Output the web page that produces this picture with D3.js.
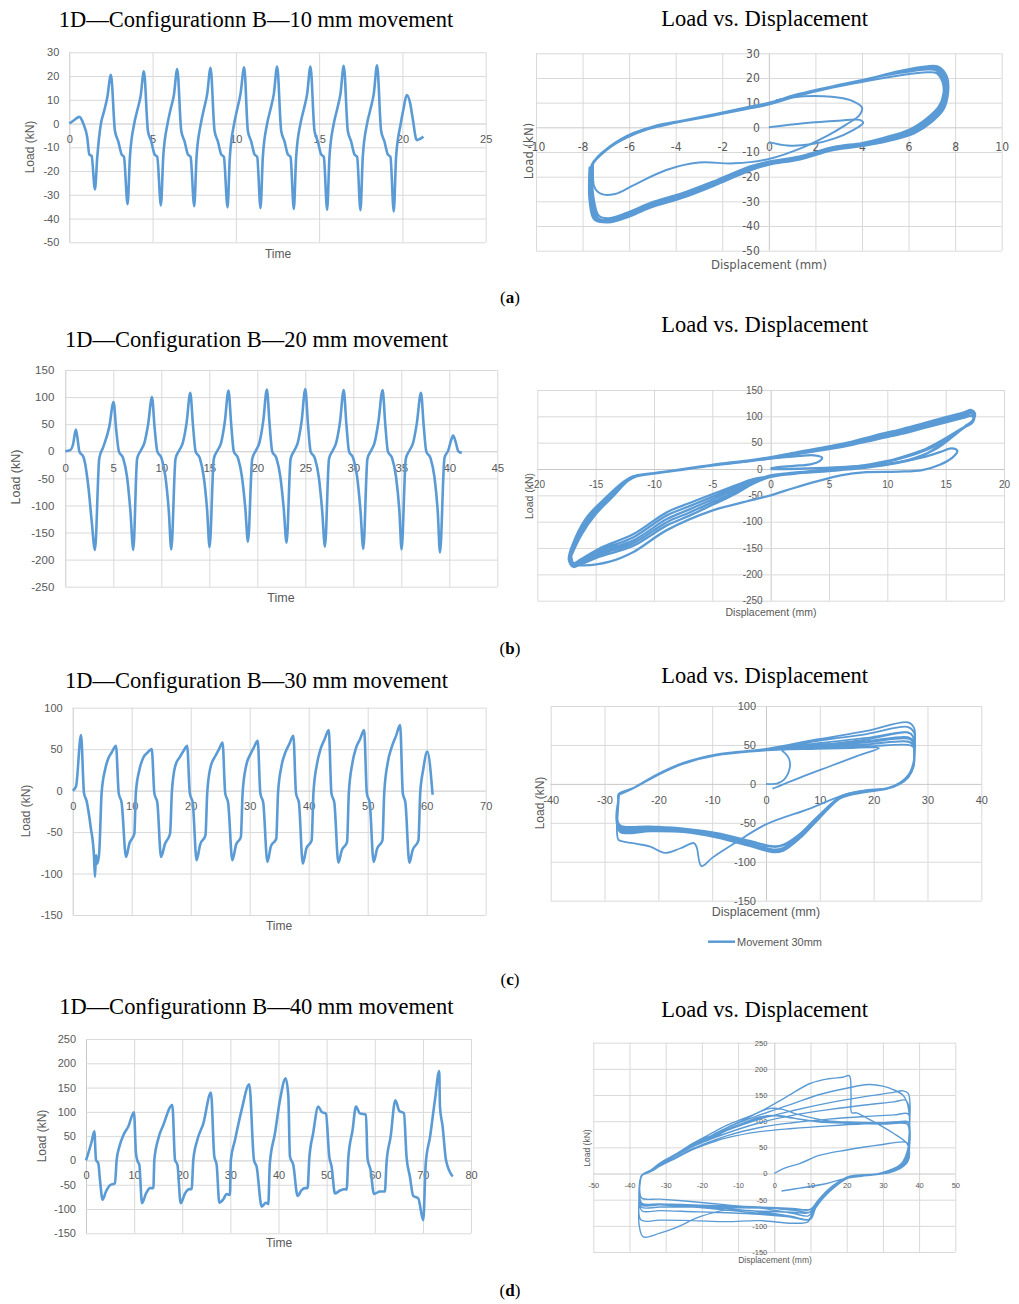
<!DOCTYPE html>
<html><head><meta charset="utf-8">
<style>
body { margin: 0; background: #fff; }
</style>
</head>
<body>
<svg width="1019" height="1304"></svg>
<script src="https://cdn.jsdelivr.net/npm/d3@7"></script>
<script>

// ---------- tick labels ----------
var timeTicksA = [0, 5, 10, 15, 20, 25];
var loadTicksA = [-50, -40, -30, -20, -10, 0, 10, 20, 30];
var dispTicksA = [-10, -8, -6, -4, -2, 0, 2, 4, 6, 8, 10];
var timeTicksB = [0, 5, 10, 15, 20, 25, 30, 35, 40, 45];
var loadTicksB = [-250, -200, -150, -100, -50, 0, 50, 100, 150];
var dispTicksB = [-20, -15, -10, -5, 0, 5, 10, 15, 20];
var timeTicksC = [0, 10, 20, 30, 40, 50, 60, 70];
var loadTicksC = [-150, -100, -50, 0, 50, 100];
var dispTicksC = [-40, -30, -20, -10, 0, 10, 20, 30, 40];
var timeTicksD = [0, 10, 20, 30, 40, 50, 60, 70, 80];
var loadTicksD = [-150, -100, -50, 0, 50, 100, 150, 200, 250];
var dispTicksD = [-50, -40, -30, -20, -10, 0, 10, 20, 30, 40, 50];

// ---------- load vs time [time, kN] ----------
var loadTimeA = [
 [0,0],[0.3,1.5],[0.6,2.8],[0.84,0],[1.08,-6],[1.2,-13],[1.34,-13.6],[1.54,-27.7],[1.68,-14],[1.9,0],[2.08,5],[2.28,11],[2.5,20.5],
 [2.74,-3],[2.94,-7.5],[3.14,-13],[3.28,-14],[3.5,-34],[3.64,-14],[3.9,0],[4.08,5.5],[4.28,11.5],[4.48,22],
 [4.72,-3],[4.92,-7.5],[5.12,-13],[5.28,-14],[5.5,-34.5],[5.64,-14],[5.9,0],[6.08,6],[6.28,12],[6.48,23],
 [6.72,-3],[6.92,-7.5],[7.12,-13],[7.28,-14],[7.5,-34.8],[7.64,-14],[7.9,0],[8.08,6],[8.28,12.5],[8.48,23.5],
 [8.72,-3],[8.92,-7.5],[9.12,-13],[9.28,-14],[9.5,-35.3],[9.64,-14],[9.9,0],[10.08,6],[10.28,12.5],[10.5,23.7],
 [10.72,-3],[10.92,-7.5],[11.12,-13],[11.28,-14],[11.48,-35.6],[11.62,-14],[11.88,0],[12.08,6],[12.28,12.5],[12.48,24],
 [12.72,-3],[12.92,-7.5],[13.12,-13],[13.28,-14],[13.48,-36],[13.62,-14],[13.88,0],[14.08,6],[14.28,12.5],[14.48,24],
 [14.72,-3],[14.92,-7.5],[15.12,-13],[15.28,-14],[15.48,-36.3],[15.62,-14],[15.88,0],[16.08,6],[16.28,12.5],[16.48,24.3],
 [16.72,-3],[16.92,-7.5],[17.12,-13],[17.28,-14],[17.48,-36.5],[17.62,-14],[17.88,0],[18.08,6],[18.28,12.5],[18.48,24.5],
 [18.72,-3],[18.92,-7.5],[19.12,-13],[19.28,-14],[19.48,-37],[19.62,-14],[19.9,0],[20.06,6],[20.26,12],[20.45,9],[20.62,2],[20.86,-7],[21.05,-6.5],[21.26,-5.5]
];
var loadTimeB = [
 [0,0],[0.5,2],[0.8,12],[1.1,40],[1.3,20],[1.46,0],[1.9,-11],[2.4,-65],[2.74,-127],[3.09,-182],[3.54,-13],[3.96,8],[4.58,45],[5.03,91],
 [5.3,40],[5.58,0],[6.03,-13],[6.43,-47],[6.78,-110],[7.08,-182],[7.48,-14],[7.88,2],[8.23,15],[8.63,50],[9.03,100],
 [9.3,44],[9.58,0],[10.03,-13],[10.43,-47],[10.78,-110],[11.04,-181],[11.48,-14],[11.88,2],[12.23,15],[12.63,52],[13.02,108],
 [13.3,48],[13.57,0],[14.02,-13],[14.42,-47],[14.77,-108],[15.03,-177],[15.47,-14],[15.87,2],[16.22,15],[16.62,55],[17.0,112],
 [17.28,50],[17.55,0],[18.0,-13],[18.4,-47],[18.75,-105],[19.03,-167],[19.47,-14],[19.87,2],[20.22,16],[20.62,56],[21.0,114],
 [21.28,50],[21.55,0],[22.0,-13],[22.4,-47],[22.75,-105],[23.05,-169],[23.47,-14],[23.87,2],[24.22,16],[24.62,56],[25.0,115],
 [25.28,50],[25.55,0],[26.0,-13],[26.4,-47],[26.75,-108],[27.05,-176],[27.47,-14],[27.87,2],[28.22,16],[28.62,55],[29.0,113],
 [29.28,50],[29.55,0],[30.0,-13],[30.4,-47],[30.75,-110],[31.04,-180],[31.47,-14],[31.87,2],[32.22,16],[32.62,55],[33.05,113],
 [33.33,50],[33.6,0],[34.05,-13],[34.45,-47],[34.8,-110],[35.03,-181],[35.47,-14],[35.87,2],[36.22,15],[36.62,52],[37.05,108],
 [37.33,48],[37.6,0],[38.05,-13],[38.45,-47],[38.8,-112],[39.03,-187],[39.5,-12],[39.9,2],[40.15,18],[40.4,29],[40.65,18],[40.94,0],[41.3,-3]
];
var loadTimeC = [
 [0,0],[0.56,5],[1.41,67],[1.92,-3],[2.37,-13],[3.05,-44],[3.6,-78],[3.78,-104],[3.95,-78],[4.18,-88],[4.5,-74],[4.9,-3],[5.48,25],[6.05,39],[6.6,46],[7.34,54],
 [7.8,-3],[8.3,-15],[9.04,-80],[9.6,-64],[10.45,-52],[10.7,-3],[11.3,25],[11.98,40],[12.7,46],[13.4,50],
 [13.84,-3],[14.35,-15],[14.97,-80],[15.65,-64],[16.5,-52],[16.8,-3],[17.35,29],[18.2,41],[18.8,48],[19.4,54],
 [19.85,-3],[20.35,-15],[21.0,-84],[21.6,-65],[22.5,-54],[22.8,-3],[23.35,28],[24.2,42],[24.8,50],[25.4,58],
 [25.85,-3],[26.35,-15],[27.06,-84],[27.7,-65],[28.5,-56],[28.8,-3],[29.4,30],[30.2,45],[30.7,52],[31.36,60],
 [31.8,-3],[32.3,-15],[33.0,-86],[33.6,-67],[34.5,-58],[34.8,-3],[35.4,30],[36.1,47],[36.7,56],[37.4,66],
 [37.85,-3],[38.35,-15],[39.0,-88],[39.6,-70],[40.5,-60],[40.8,-3],[41.4,32],[42.0,50],[42.7,62],[43.4,73],
 [43.85,-3],[44.35,-15],[45.03,-87],[45.6,-72],[46.5,-62],[46.8,-3],[47.4,33],[48.0,51],[48.7,62],[49.4,73],
 [49.85,-3],[50.35,-15],[51.0,-86],[51.6,-70],[52.5,-60],[52.8,-3],[53.4,34],[54.1,53],[54.8,66],[55.5,79],
 [55.95,-3],[56.4,-15],[57.06,-87],[57.6,-72],[58.6,-60],[58.9,-3],[59.4,25],[60.1,47],[61.0,-5]
];
var loadTimeD = [
 [0,0],[0.48,15],[1.18,39],[1.73,60],[2.08,1],[2.56,-6],[2.9,-40],[3.46,-81],[4.15,-64],[4.99,-51],[6.02,-47],[6.37,1],[6.92,28],[7.76,52],[8.8,70],[9.97,99],
 [10.38,15],[10.73,-2],[11.08,-9],[11.63,-88],[12.47,-68],[13.3,-57],[14.0,-57],[14.2,1],[15.03,45],[16.07,73],[17.94,114],
 [18.5,1],[19.0,-9],[19.67,-88],[20.57,-68],[21.47,-59],[21.95,-59],[22.3,1],[23.13,42],[24.38,76],[25.97,140],
 [26.66,8],[27.15,-9],[27.7,-87],[28.53,-80],[29.22,-69],[29.9,-71],[30.1,1],[30.96,42],[32.34,104],[33.93,157],
 [34.9,1],[35.46,-13],[36.5,-95],[37.4,-87],[37.88,-90],[38.2,-6],[39.27,56],[40.3,124],[41.48,169],
 [42.04,133],[42.38,8],[43.07,-9],[43.97,-73],[44.8,-61],[45.5,-57],[46.05,-57],[46.4,4],[47.2,56],[48.27,111],
 [48.96,100],[49.86,96],[50.55,8],[51.04,-13],[51.73,-68],[52.77,-62],[53.8,-59],[54.16,-60],[54.5,4],[55.4,63],[56.1,111],
 [56.9,97],[58.17,94],[58.5,4],[59.14,-20],[59.83,-69],[61.08,-64],[62.1,-64],[62.46,-3],[63.3,49],[64.27,124],
 [65.1,102],[66.07,97],[66.6,8],[67.3,-33],[68.0,-73],[69.04,-78],[70.08,-123],[70.6,-6],[71.5,49],[72.5,124],[73.4,184],
 [73.55,111],[74.1,70],[74.8,1],[76.2,-33]
];

// ---------- load vs displacement [mm, kN], one trace per run ----------
var loopA = [
 [[0,-6],[0.8,-7.4],[1.8,-6.9],[2.8,-4.6],[3.6,-1.2],[4.05,1.8],[3.9,3],[3,2.7],[1.5,1.7],[0,0]],
 [[0.3,11],[1.5,12.6],[2.7,12.4],[3.5,11],[4,8],[3.9,5],[3.3,1],[2.5,-3.5],[1.5,-8],[0,-12.8],[-1.5,-14.6],[-3,-14.3],[-4.4,-17.3],[-5.8,-23.4],[-6.6,-27],[-7.2,-27],[-7.5,-24],[-7.55,-17],[-7.55,-14]],
 [[-7.55,-14],[-6.8,-7.5],[-5.8,-2.2],[-4.8,0.8],[-3.7,2.8],[-2.2,5.5],[-0.8,8.2],[0,9.8],[1.3,13.2],[2.8,16.2],[4.2,18.8],[5.6,21],[6.8,22.3],[7.2,22],[7.45,18.5],[7.5,14],[7.3,8.5],[6.8,3.8],[6.05,-0.8],[4.9,-4.3],[4,-6.3],[2.8,-7.9],[1.3,-11.8],[0,-13.8],[-0.8,-15.8],[-2.2,-21.2],[-3.7,-26.6],[-5.1,-30.6],[-6.1,-34.6],[-6.9,-36.8],[-7.3,-35.8],[-7.5,-30],[-7.6,-20],[-7.6,-15],
  [-6.9,-8.5],[-5.9,-2.8],[-4.9,0.6],[-3.8,2.6],[-2.3,5.4],[-0.9,8.2],[0,10],[1.3,13.6],[2.8,16.8],[4.2,19.6],[5.6,22],[6.8,23.4],[7.2,23],[7.5,19],[7.55,14],[7.35,8.3],[6.85,3.4],[6.1,-1.2],[5,-4.6],[4,-6.8],[2.8,-8.4],[1.3,-12.3],[0,-14.3],[-0.8,-16.3],[-2.2,-21.8],[-3.7,-27.3],[-5.1,-31.3],[-6.1,-35.3],[-6.9,-37.6],[-7.35,-36.6],[-7.55,-30],[-7.62,-20],[-7.6,-15.5],
  [-7,-9.5],[-6,-3.6],[-5,0],[-3.8,2.4],[-2.3,5.1],[-0.9,7.9],[0,9.6],[1.3,13.4],[2.8,16.6],[4.2,19.6],[5.6,22.4],[6.8,24],[7.25,23.6],[7.55,19.5],[7.6,14],[7.4,8],[6.9,3],[6.15,-1.6],[5,-5],[4,-7],[2.8,-8.7],[1.3,-12.6],[0,-14.7],[-0.8,-16.8],[-2.2,-22.4],[-3.7,-27.9],[-5.1,-31.9],[-6.1,-35.9],[-6.9,-38.1],[-7.4,-37],[-7.6,-30],[-7.65,-20],[-7.6,-15.8],
  [-7.1,-10],[-6.1,-4.2],[-5.1,-0.4],[-3.9,2.1],[-2.4,4.8],[-1,7.6],[0,9.4],[1.3,13.1],[2.8,16.4],[4.2,19.4],[5.6,22.6],[6.8,24.5],[7.3,24.1],[7.6,20],[7.65,14],[7.45,7.6],[6.95,2.6],[6.2,-2],[5.05,-5.4],[4.05,-7.3],[2.8,-9],[1.3,-12.9],[0,-15],[-0.8,-17.2],[-2.2,-22.8],[-3.7,-28.3],[-5.1,-32.3],[-6.1,-36.3],[-6.9,-38.4],[-7.45,-37.2],[-7.65,-30],[-7.7,-20],[-7.65,-16],
  [-7.2,-10.5],[-6.2,-4.6],[-5.2,-0.8],[-4,1.8],[-2.5,4.5],[-1,7.3],[0,9.2],[1.3,12.9],[2.8,16.2],[4.2,19.4],[5.6,22.8],[6.8,24.8],[7.3,24.5],[7.65,20.5],[7.7,14],[7.5,7.2],[7,2.2],[6.25,-2.4],[5.1,-5.7],[4.1,-7.5],[2.8,-9.2],[1.3,-13.1],[0,-15.2],[-0.8,-17.5],[-2.2,-23.1],[-3.7,-28.6],[-5.1,-32.6],[-6.1,-36.6],[-6.9,-38.6],[-7.5,-37.4],[-7.7,-30],[-7.72,-20],[-7.7,-16]]
];
var loopB = [
 [[0,0],[2.5,0.5],[5.5,3],[8.5,7],[11,13],[13,22],[14.5,32],[15.5,39],[16,34],[15.6,22],[14.5,8],[13,-2],[11,-5],[8.2,-6],[6,-12],[4.2,-22],[2,-36],[0,-50],[-2.5,-64],[-4.9,-78],[-8.9,-116],[-11.8,-158],[-13.8,-176],[-16,-183],[-16.9,-180],[-17.1,-165]],
 [[-1,18],[1,22],[2.5,25],[3.7,26],[4.4,22],[4.2,15],[3.4,9],[2,6],[0.5,3],[0,1]],
 [[-17.1,-165],[-16.2,-124],[-15.0,-86],[-13.6,-54],[-12.2,-22],[-11.4,-13],[-10,-8],[-7,1],[-4.9,7],[-2,14],[0,20],[2.5,29],[5,38],[7,46],[9,56],[11.1,66],[13,77],[15.1,89],[16.5,97],[17.2,101],[17.4,97],[17.3,88],[16.5,78],[15,58],[13.9,42],[11.9,25],[9.6,12],[6.8,3],[4,-3],[2,-8],[0,-14],[-1.5,-19],[-3,-31],[-4.9,-47],[-7,-65],[-8.9,-82],[-11.8,-124],[-14.6,-150],[-16.3,-172],[-16.9,-179],[-17.2,-170],
  [-16.4,-125],[-15.2,-87],[-13.8,-55],[-12.3,-23],[-11.5,-14],[-10,-8.5],[-7,0.5],[-4.9,7],[-2,14.5],[0,21],[2.5,30],[5,40],[7,48],[9,58],[11.1,69],[13,80],[15.1,93],[16.5,101],[17.2,106],[17.4,101],[17.3,90],[16.3,76],[14.5,52],[13,35],[11,20],[8.5,9],[5.5,1],[3,-5],[1,-10],[0,-13],[-1.5,-22],[-3,-35],[-4.9,-52],[-7,-71],[-8.9,-88],[-11.8,-130],[-14.6,-154],[-16.3,-175],[-16.9,-182],[-17.2,-168],
  [-16.5,-126],[-15.4,-88],[-14.0,-56],[-12.4,-22],[-11.6,-13],[-10,-8],[-7,1],[-4.9,7.5],[-2,15],[0,21.5],[2.5,31],[5,41],[7,50],[9,61],[11.1,72],[13,83],[15.1,96],[16.5,104],[17.2,109],[17.4,104],[17.4,92],[16.8,82],[15.5,62],[14,44],[12,28],[10,15],[7,4],[4,-3],[2,-7],[0,-12],[-1.5,-24],[-3,-39],[-4.9,-57],[-7,-77],[-8.9,-95],[-11.8,-136],[-14.6,-158],[-16.3,-178],[-16.9,-185],[-17.3,-170],
  [-16.6,-128],[-15.6,-89],[-14.2,-57],[-12.5,-23],[-11.7,-14],[-10,-8],[-7,1.5],[-4.9,8],[-2,15.5],[0,22],[2.5,32],[5,42],[7,51],[9,63],[11.1,74],[13,86],[15.1,99],[16.5,107],[17.2,112],[17.5,106],[17.4,94],[16.9,84],[16,70],[14.5,45],[13,25],[11,12],[8,3],[5,-3],[2,-8],[0,-13],[-1.5,-26],[-3,-43],[-4.9,-62],[-7,-83],[-8.9,-101],[-11.8,-141],[-14.6,-162],[-16.3,-180],[-16.9,-186],[-17.3,-172],
  [-16.7,-129],[-15.7,-90],[-14.3,-58],[-12.6,-24],[-11.8,-14],[-10,-8],[-7,1.5],[-4.9,8.5],[-2,16],[0,22.5],[2.5,33],[5,43],[7,52],[9,64],[11.1,75],[13,86],[15.1,98],[16.5,105],[17.2,109],[17.4,104],[17.3,92],[16.6,80],[15.8,65],[14.3,40],[12.5,22],[10.5,10],[8,2],[5,-4],[2,-9],[0,-15],[-1.5,-28],[-3,-47],[-4.9,-67],[-7,-89],[-8.9,-107],[-11.8,-146],[-14.6,-166],[-16.3,-181],[-16.8,-184],[-17.1,-170]]
];
var loopC = [
 [[0,0],[2,0.3],[3.3,5],[4.4,20],[4.3,32],[3.6,39],[3,43],[5,45.5],[9.4,49],[18.7,57],[26.2,66],[27.2,62],[27.5,45],[27.4,22],[26.4,9],[24.9,0.7],[22.4,-5.8],[18.7,-8],[14.4,-14.3],[8,-32],[0,-52],[-6,-77],[-10,-95],[-12,-105.5],[-12.9,-81],[-13.4,-76],[-16,-83],[-18.8,-88.6],[-21.5,-80.6],[-24,-77],[-26.5,-74],[-27.4,-72],[-27.7,-60],[-27.6,-45],[-27.4,-25],[-27.3,-14]],
 [[-27.3,-14],[-24.6,-5.4],[-20.3,11],[-15.4,26],[-9.2,37],[0,43.5],[9.4,47],[18.7,50.5],[26.4,54],[27.3,50],[27.5,40],[27.3,22],[26.3,9],[24.8,0.5],[22.3,-6],[18.7,-8.5],[15.6,-12],[13.7,-16.5],[9.4,-43],[6.3,-64],[3.2,-78],[1.4,-80],[-3,-73],[-9.2,-63],[-15.4,-57],[-21.5,-54.5],[-27.1,-53],[-27.7,-42],[-27.5,-22],[-27.3,-13],
  [-24.6,-5],[-20.3,11.5],[-15.4,26.5],[-9.2,37.5],[0,44],[9.4,46],[18.7,48],[26.4,50],[27.4,47],[27.6,38],[27.4,22],[26.4,8],[24.9,0],[22.4,-6.5],[18.7,-9],[15.6,-12.5],[13.7,-17],[9.4,-44],[6.3,-65],[3.2,-79],[1.4,-81],[-3,-74],[-9.2,-64],[-15.4,-58],[-21.5,-56],[-27.1,-55],[-27.8,-43],[-27.5,-22],[-27.4,-13],
  [-24.6,-5.2],[-20.3,11],[-15.4,26],[-9.2,37],[0,43.5],[9.4,47.5],[18.7,51],[26.4,54.5],[27.4,50],[27.6,40],[27.4,23],[26.5,9],[25,0.5],[22.5,-6],[18.7,-9],[15.6,-13],[13.7,-17.5],[9.4,-45],[6.3,-67],[3.2,-82],[1.4,-84],[-3,-76],[-9.2,-65],[-15.4,-59],[-21.5,-57],[-27.1,-56],[-27.8,-44],[-27.5,-22],[-27.4,-14],
  [-24.6,-5.6],[-20.3,10.5],[-15.4,25.5],[-9.2,36.5],[0,43],[9.4,49],[18.7,53.5],[26.4,58],[27.4,53],[27.6,42],[27.4,24],[26.5,10],[25,1],[22.5,-6],[18.7,-9.5],[15.6,-13],[13.7,-18],[9.4,-46],[6.3,-68],[3.2,-82],[1.4,-84],[-3,-77],[-9.2,-66],[-15.4,-60],[-21.5,-58],[-27.1,-57],[-27.8,-45],[-27.5,-22],[-27.4,-14],
  [-24.6,-5.4],[-20.3,11],[-15.4,26],[-9.2,37],[0,43.5],[9.4,50],[18.7,55],[26.4,60],[27.4,55],[27.6,44],[27.4,25],[26.5,10],[25,1],[22.5,-6.5],[18.7,-10],[15.6,-13.5],[13.7,-18],[9.4,-47],[6.3,-69],[3.2,-84],[1.4,-86],[-3,-78],[-9.2,-67],[-15.4,-61],[-21.5,-59],[-27.1,-58],[-27.8,-46],[-27.5,-22],[-27.4,-14],
  [-24.6,-5.2],[-20.3,11.5],[-15.4,26.5],[-9.2,37.5],[0,44],[9.4,52],[18.7,59],[26.4,66],[27.4,60],[27.6,47],[27.4,25],[26.5,10],[25,1],[22.5,-6.5],[18.7,-10],[15.6,-14],[13.7,-18.5],[9.4,-48],[6.3,-70],[3.2,-86],[1.4,-88],[-3,-80],[-9.2,-68],[-15.4,-62],[-21.5,-60],[-27.1,-59],[-27.8,-46],[-27.5,-22],[-27.4,-14],
  [-24.6,-5],[-20.3,12],[-15.4,27],[-9.2,38],[0,44.5],[9.4,55],[18.7,64],[26.4,73],[27.5,66],[27.7,50],[27.4,26],[26.5,11],[25,1.5],[22.5,-6],[18.7,-10],[15.6,-14],[13.7,-18.5],[9.4,-48],[6.3,-70],[3.2,-85],[1.4,-87],[-3,-79],[-9.2,-68],[-15.4,-61.5],[-21.5,-60],[-27.1,-60],[-27.8,-47],[-27.5,-22],[-27.4,-14],
  [-24.6,-5],[-20.3,12],[-15.4,27],[-9.2,38],[0,45],[9.4,57],[18.7,68],[26.4,79],[27.5,72],[27.7,55],[27.4,28],[26.5,12],[25,2],[22.5,-6],[18.7,-10.5],[15.6,-14.5],[13.7,-19],[9.4,-48],[6.3,-70],[3.2,-85],[1.4,-87],[-3,-80],[-9.2,-69],[-15.4,-62],[-21.5,-61],[-27.1,-62],[-27.8,-47],[-27.5,-22],[-27.3,-14],
  [-24.6,-5],[-20.3,11],[-15.4,26],[-9.2,37],[0,43],[9.4,45],[16,46],[19.3,47],[21,46],[17,36],[12,23],[7,10],[2.9,-1.5],[2,-4],[1.2,-6]]
];
var loopD = [
 [[0,0],[2.5,9.5],[7,19],[12.6,35],[20,45],[29,54.5],[36.6,59],[37.3,45],[37,25],[34,8],[28,-2],[20,-9],[14.5,-38],[10.8,-70],[9.4,-81],[5,-76],[-4,-66],[-13.2,-60],[-22.4,-54],[-31.6,-49],[-36.6,-47],[-37.2,-30],[-37,-10],[-36.6,-4],
  [-34,4],[-31.6,14],[-27,30],[-22.4,46],[-17,60],[-13.2,68],[-4,80],[5,86],[15,91],[25,95],[33,97],[37,99],[37.3,85],[37.2,60],[36.6,30],[34,10],[28,-2],[20,-9],[15,-35],[11,-68],[9.5,-88],[5,-82],[-4,-73],[-13.2,-67],[-22.4,-62],[-31.6,-58],[-36.6,-57],[-37.2,-35],[-37,-10],[-36.6,-3],
  [-34,5],[-31.6,16],[-27,32],[-22.4,48],[-17,63],[-13.2,72],[-4,88],[5,97],[15,104],[25,109],[33,112],[37,114],[37.4,95],[37.2,65],[36.6,35],[34,12],[28,-1],[20,-8],[15,-33],[11,-66],[9.6,-88],[5,-84],[-4,-76],[-13.2,-70],[-22.4,-64],[-31.6,-60],[-36.6,-59],[-37.2,-35],[-37,-10],[-36.6,-3],
  [-34,5],[-31.6,18],[-27,35],[-22.4,52],[-17,67],[-13.2,77],[-4,97],[5,111],[15,122],[25,131],[33,137],[36.3,140],[37.3,125],[37.4,95],[37,50],[35,18],[29,0],[21,-7],[16,-30],[11.5,-65],[10,-87],[5,-83],[-4,-78],[-13.2,-75],[-22.4,-73],[-31.6,-71],[-36.6,-71],[-37.3,-40],[-37,-10],[-36.4,-2],
  [-34,6],[-31.6,19],[-27,37],[-22.4,55],[-17,71],[-13.2,82],[-4,104],[5,120],[15,135],[25,147],[32,154],[35.6,158],[37,153],[37.5,130],[37.3,90],[36.8,40],[34.5,12],[28,-1],[20,-9],[14,-40],[10.5,-75],[9.4,-92],[5,-95],[-4,-90],[-13.2,-92],[-22.4,-90],[-31.6,-89],[-36.8,-89],[-37.4,-50],[-37,-12],[-36.2,-1],
  [-34,7],[-31.6,20],[-27,38],[-22.4,57],[-17,74],[-13.2,87],[-4,112],[5,133],[12,150],[20,163],[26,170],[30,167],[33,160],[35.5,150],[36.6,137],[37.3,110],[37.2,70],[36.3,30],[33,6],[27,-2],[20,-8],[15,-30],[12,-55],[10.5,-73],[5,-70],[-4,-65],[-13.2,-62],[-22.4,-60],[-31.6,-58],[-36.7,-57],[-37.3,-35],[-37,-10],[-36.4,-2],
  [-34,7],[-31.6,20],[-27,36],[-22.4,53],[-17,70],[-13.2,84],[-8,98],[-4,108],[0,111],[5,106],[10,101],[20,98],[30,96],[36.6,95],[37.3,80],[37.2,55],[36.5,28],[33,6],[27,-3],[20,-9],[15,-30],[12,-52],[10,-68],[5,-67],[-4,-64],[-13.2,-62],[-22.4,-61],[-31.6,-60],[-36.8,-60],[-37.3,-35],[-37,-10],[-36.5,-3],
  [-34,6],[-31.6,18],[-27,35],[-22.4,52],[-17,68],[-13.2,82],[-8,96],[-3,107],[1,111],[6,105],[12,99],[20,96],[30,94.5],[36.8,94],[37.4,75],[37.3,50],[36.6,22],[33,4],[27,-3],[20,-9],[15,-32],[12,-55],[10,-69],[5,-68],[-4,-66],[-13.2,-65],[-22.4,-64],[-31.6,-64],[-36.8,-64],[-37.3,-35],[-37,-10],[-36.4,-3],
  [-34,6],[-31.6,19],[-27,36],[-22.4,54],[-17,72],[-13.2,87],[-8,104],[-4,118],[-1,124.5],[2,123],[6,114],[14.5,101],[22,98],[30,97],[37,97],[37.5,80],[37.4,55],[36.8,28],[34,8],[28,-1],[20,-7],[14,-40],[11,-66],[9.4,-75],[5,-74],[-4,-72],[-13.2,-70],[-20.5,-82.5],[-27,-103],[-31.6,-114],[-36.2,-121],[-37.3,-100],[-37.4,-60],[-37,-15],[-36.6,-4],
  [-34,6],[-31.6,20],[-27,38],[-22.4,58],[-17,78],[-13.2,92],[-4,118],[3,145],[9.9,172],[15,181],[19,184],[20.7,187],[21.2,150],[21.4,116],[22.7,116],[25,108],[28.3,96],[32.9,77],[36.6,58],[37.3,42],[36.8,22],[33,4],[27,-3],[20,-9],[14.5,-19],[7,-28],[2,-33.4]]
];

// ---------- drawing ----------
var svg = d3.select("svg");
svg.append("rect").attr("width", 1019).attr("height", 1304).attr("fill", "#fff");

var BLUE = "#5B9BD5", GRID = "#D9D9D9", TXT = "#595959";
var SANS = "'Liberation Sans', Arial, sans-serif";
var NARROW = "'DejaVu Sans Condensed', 'Liberation Sans Narrow', 'Liberation Sans', sans-serif";
var SERIF = "'Liberation Serif', 'Times New Roman', serif";

var panels = [
  { box: [69.3, 52.3, 485.7, 242.3], xDom: [0, 25], yDom: [-50, 30], xTicks: timeTicksA, yTicks: loadTicksA,
    series: loadTimeA, title: "1D\u2014Configurationn B\u201410 mm movement", tPos: [256, 27],
    yl: [30, 147], ylSize: 12, xl: "Time", xlPos: [278, 254], xlSize: 12, tick: 11, gap: 10, xOff: 15.7, font: SANS },
  { loop: true, box: [536, 53.3, 1001.7, 250.7], xDom: [-10, 10], yDom: [-50, 30], xTicks: dispTicksA, yTicks: loadTicksA,
    traces: loopA, width: 2, title: "Load vs. Displacement", tPos: [764.7, 25.7],
    yl: [528, 151], ylSize: 13, xl: "Displacement (mm)", xlPos: [769, 264], xlSize: 13, tick: 12, gap: 9, xOff: 19, font: NARROW, stretch: "condensed" },
  { box: [65.3, 370, 497.3, 586.7], xDom: [0, 45], yDom: [-250, 150], xTicks: timeTicksB, yTicks: loadTicksB,
    series: loadTimeB, title: "1D\u2014Configuration B\u201420 mm movement", tPos: [256.5, 346.7],
    yl: [16, 477], ylSize: 12.5, xl: "Time", xlPos: [281, 598], xlSize: 12.5, tick: 11.5, gap: 11, xOff: 17, font: SANS },
  { loop: true, box: [537.3, 390, 1004, 600.7], xDom: [-20, 20], yDom: [-250, 150], xTicks: dispTicksB, yTicks: loadTicksB,
    traces: loopB, width: 2.3, title: "Load vs. Displacement", tPos: [764.7, 332],
    yl: [529, 496], ylSize: 10.5, xl: "Displacement (mm)", xlPos: [771, 612], xlSize: 10.5, tick: 10, gap: 8, xOff: 15, font: SANS },
  { box: [72.7, 707.7, 485.7, 915], xDom: [0, 70], yDom: [-150, 100], xTicks: timeTicksC, yTicks: loadTicksC,
    series: loadTimeC, title: "1D\u2014Configuration B\u201430 mm movement", tPos: [256.5, 688.3],
    yl: [25.5, 811], ylSize: 12, xl: "Time", xlPos: [279, 926], xlSize: 12, tick: 11, gap: 10, xOff: 15.4, font: SANS },
  { loop: true, box: [550.7, 706, 981.3, 900.7], xDom: [-40, 40], yDom: [-150, 100], xTicks: dispTicksC, yTicks: loadTicksC,
    traces: loopC, width: 1.8, title: "Load vs. Displacement", tPos: [764.7, 682.7],
    yl: [540, 803], ylSize: 12, xl: "Displacement (mm)", xlPos: [766, 912], xlSize: 12.5, tick: 11, gap: 10, xOff: 16, font: SANS,
    legend: "Movement 30mm" },
  { box: [86, 1039, 471, 1233.3], xDom: [0, 80], yDom: [-150, 250], xTicks: timeTicksD, yTicks: loadTicksD,
    series: loadTimeD, title: "1D\u2014Configurationn B\u201440 mm movement", tPos: [256.3, 1014],
    yl: [42, 1136], ylSize: 12, xl: "Time", xlPos: [279, 1243], xlSize: 12, tick: 11, gap: 10, xOff: 14.5, font: SANS },
  { loop: true, box: [593.3, 1042.7, 955.3, 1252], xDom: [-50, 50], yDom: [-150, 250], xTicks: dispTicksD, yTicks: loadTicksD,
    traces: loopD, width: 1.4, title: "Load vs. Displacement", tPos: [764.7, 1016.7],
    yl: [587, 1148], ylSize: 8.5, xl: "Displacement (mm)", xlPos: [775, 1260], xlSize: 8.5, tick: 7.5, gap: 7, xOff: 11.5, font: SANS }
];

var subLabels = [["(a)", 303], ["(b)", 654], ["(c)", 985], ["(d)", 1296]];

function drawPanel(p) {
  var x = d3.scaleLinear().domain(p.xDom).range([p.box[0], p.box[2]]);
  var y = d3.scaleLinear().domain(p.yDom).range([p.box[3], p.box[1]]);
  var w = p.box[2] - p.box[0], h = p.box[3] - p.box[1];

  // gridlines
  var gx = svg.append("g").attr("transform", "translate(0," + p.box[3] + ")")
      .call(d3.axisBottom(x).tickValues(p.xTicks).tickSize(-h).tickFormat(""));
  var gy = svg.append("g").attr("transform", "translate(" + p.box[0] + ",0)")
      .call(d3.axisLeft(y).tickValues(p.yTicks).tickSize(-w).tickFormat(""));
  [gx, gy].forEach(function (g) {
    g.select(".domain").remove();
    g.selectAll(".tick line")
      .attr("stroke", function (d) { return d === 0 ? "#C8C8C8" : GRID; })
      .attr("stroke-width", 1);
  });

  // tick labels: y on the left edge (time charts) or on x = 0 (loops), x on the zero line
  var yLab = svg.append("g")
      .attr("transform", "translate(" + (p.loop ? x(0) : p.box[0]) + ",0)")
      .call(d3.axisLeft(y).tickValues(p.yTicks).tickSize(0).tickPadding(p.gap).tickFormat(String));
  var xLab = svg.append("g")
      .attr("transform", "translate(0," + y(0) + ")")
      .call(d3.axisBottom(x).tickValues(p.xTicks).tickSize(0).tickFormat(String));
  [yLab, xLab].forEach(function (g) {
    g.select(".domain").remove();
    g.attr("font-family", p.font).attr("font-size", p.tick).attr("color", TXT)
     .attr("font-stretch", p.stretch || null);
  });
  xLab.selectAll("text").attr("y", p.xOff).attr("dy", "0.35em");

  // data
  if (p.series) {
    var line = d3.line().x(function (d) { return x(d[0]); }).y(function (d) { return y(d[1]); })
        .curve(d3.curveMonotoneX);
    svg.append("path").datum(p.series)
      .attr("d", line).attr("fill", "none").attr("stroke", BLUE)
      .attr("stroke-width", 2.6).attr("stroke-linejoin", "round");
  } else {
    var loopLine = d3.line().x(function (d) { return x(d[0]); }).y(function (d) { return y(d[1]); })
        .curve(d3.curveCatmullRom.alpha(0.5));
    svg.append("g").selectAll("path").data(p.traces).enter().append("path")
      .attr("d", loopLine).attr("fill", "none").attr("stroke", BLUE)
      .attr("stroke-width", p.width).attr("stroke-linejoin", "round");
  }

  // titles
  svg.append("text").attr("x", p.tPos[0]).attr("y", p.tPos[1])
    .attr("text-anchor", "middle").attr("font-family", SERIF).attr("font-size", 22.5)
    .attr("fill", "#000").text(p.title);
  svg.append("text")
    .attr("transform", "translate(" + p.yl[0] + "," + p.yl[1] + ") rotate(-90)")
    .attr("text-anchor", "middle").attr("dy", "0.35em")
    .attr("font-family", p.font).attr("font-stretch", p.stretch || null)
    .attr("font-size", p.ylSize).attr("fill", TXT).text("Load (kN)");
  svg.append("text").attr("x", p.xlPos[0]).attr("y", p.xlPos[1]).attr("dy", "0.35em")
    .attr("text-anchor", "middle").attr("font-family", p.font).attr("font-stretch", p.stretch || null)
    .attr("font-size", p.xlSize).attr("fill", TXT).text(p.xl);

  if (p.legend) {
    svg.append("line").attr("x1", 708).attr("x2", 735).attr("y1", 941.7).attr("y2", 941.7)
      .attr("stroke", BLUE).attr("stroke-width", 2.5);
    svg.append("text").attr("x", 737).attr("y", 941.7).attr("dy", "0.35em")
      .attr("font-family", SANS).attr("font-size", 11).attr("fill", TXT).text(p.legend);
  }
}

panels.forEach(drawPanel);

svg.selectAll(".sub").data(subLabels).enter().append("text")
  .attr("x", 510).attr("y", function (d) { return d[1]; })
  .attr("text-anchor", "middle").attr("font-family", SERIF).attr("font-size", 17)
  .attr("fill", "#000")
  .html(function (d) { return "(<tspan font-weight='bold'>" + d[0].charAt(1) + "</tspan>)"; });

</script>
</body></html>
